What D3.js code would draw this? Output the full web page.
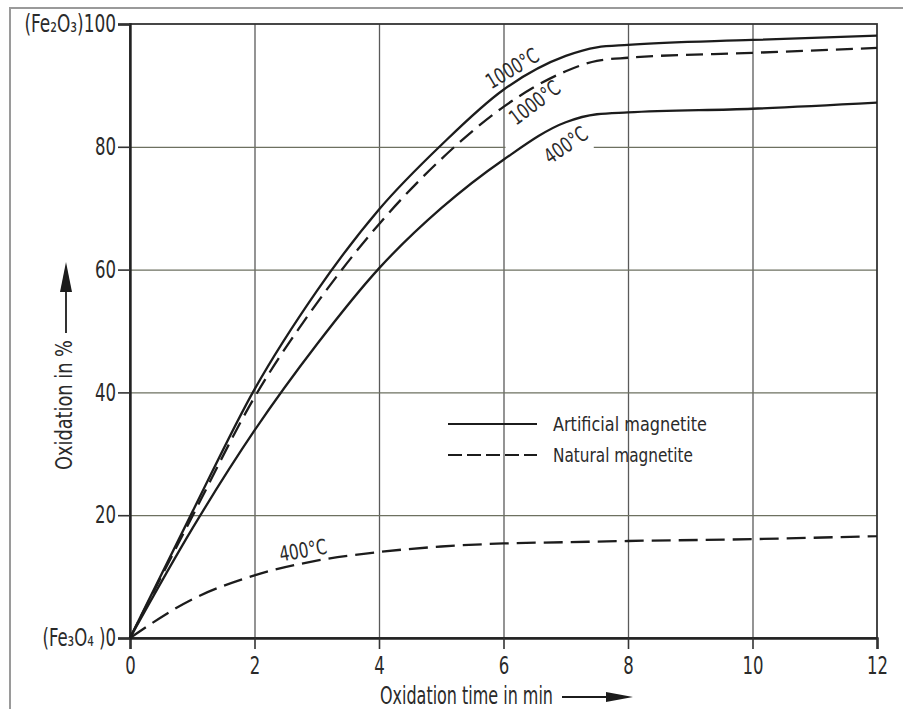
<!DOCTYPE html>
<html>
<head>
<meta charset="utf-8">
<script src="https://cdn.jsdelivr.net/npm/d3@7"></script>
<style>
  html, body { margin: 0; padding: 0; background: #fff; }
  svg { display: block; }
  text { font-family: "DejaVu Sans Condensed", "DejaVu Sans", sans-serif; fill: #2a2a2a; }
</style>
</head>
<body>
<script>
// ---- data ----
const time = [0, 1, 2, 3, 4, 5, 6, 7, 7.5, 8, 10, 12];
const artificial1000 = [0, 20.5, 40.5, 56.5, 69.8, 80.3, 89.3, 94.8, 96.2, 96.6, 97.4, 98.1];
const natural1000    = [0, 19.8, 39.2, 54.5, 67.4, 78.0, 86.5, 92.3, 94.0, 94.5, 95.3, 96.1];
const artificial400  = [0, 17.8, 33.8, 47.8, 60.2, 70.0, 77.9, 84.0, 85.3, 85.6, 86.2, 87.2];
const natural400     = [0, 6.3, 10.2, 12.6, 14.0, 14.9, 15.4, 15.6, 15.7, 15.8, 16.1, 16.6];
const xTicks = [0, 2, 4, 6, 8, 10, 12];
const yTicks = [0, 20, 40, 60, 80, 100];
const yPrefix = { 100: "(Fe₂O₃)", 0: "(Fe₃O₄ )" };
const yPrefixWidth = { 100: 60, 0: 63 };
const legendLabels = ["Artificial magnetite", "Natural magnetite"];
const curveLabels = [
  { text: "1000°C", t: 6.14, v: 92.8, angle: -31 },
  { text: "1000°C", t: 6.5,  v: 87.2, angle: -37 },
  { text: "400°C",  t: 7.0,  v: 80.3, angle: -35 },
  { text: "400°C",  t: 2.78, v: 14.3, angle: -10 }
];

const W = 903, H = 709;
const pLeft = 130, pRight = 877, pTop = 24, pBottom = 638;
const digitW = 10.5;

const svg = d3.select("body").append("svg").attr("width", W).attr("height", H);

// outer frame (scan border)
svg.append("path").attr("d", `M10,${H} L10,8 L${W},8`).attr("fill", "none")
  .attr("stroke", "#9a9a9a").attr("stroke-width", 2);

const x = d3.scaleLinear().domain([0, 12]).range([pLeft, pRight]);
const y = d3.scaleLinear().domain([0, 100]).range([pBottom, pTop]);

// grid
svg.append("g").attr("transform", `translate(0,${pBottom})`)
  .call(d3.axisBottom(x).tickValues(xTicks.slice(1, -1)).tickSize(-(pBottom - pTop)).tickFormat(""))
  .call(g => g.select(".domain").remove())
  .call(g => g.selectAll("line").attr("stroke", "#5a5a5a").attr("stroke-width", 1.3));
svg.append("g").attr("transform", `translate(${pLeft},0)`)
  .call(d3.axisLeft(y).tickValues(yTicks.slice(1, -1)).tickSize(-(pRight - pLeft)).tickFormat(""))
  .call(g => g.select(".domain").remove())
  .call(g => g.selectAll("line").attr("stroke", "#6d7060").attr("stroke-width", 1.3));

// gap in the 80% grid line
svg.append("rect").attr("x", x(6) + 2).attr("y", y(80) - 2.5)
  .attr("width", x(7.45) - x(6) - 2).attr("height", 5).attr("fill", "#fff");

// plot frame
svg.append("rect").attr("x", pLeft).attr("y", pTop).attr("width", pRight - pLeft).attr("height", pBottom - pTop)
  .attr("fill", "none").attr("stroke", "#333").attr("stroke-width", 1.8);

// axes
const xAxis = svg.append("g").attr("transform", `translate(0,${pBottom})`)
  .call(d3.axisBottom(x).tickValues(xTicks).tickSize(11).tickPadding(8).tickFormat(d3.format("d")));
xAxis.select(".domain").attr("stroke", "#222").attr("stroke-width", 2.4);
xAxis.selectAll("line").attr("stroke", "#333").attr("stroke-width", 1.6);
xAxis.selectAll("text").attr("font-size", 24).attr("fill", "#2a2a2a")
  .attr("font-family", "DejaVu Sans Condensed, DejaVu Sans, sans-serif")
  .attr("textLength", d => String(d).length * digitW).attr("lengthAdjust", "spacingAndGlyphs");

const yAxis = svg.append("g").attr("transform", `translate(${pLeft},0)`)
  .call(d3.axisLeft(y).tickValues(yTicks).tickSize(12).tickPadding(2)
    .tickFormat(d => (yPrefix[d] || "") + d3.format("d")(d)));
yAxis.select(".domain").attr("stroke", "#222").attr("stroke-width", 2.4);
yAxis.selectAll("line").attr("stroke", "#333").attr("stroke-width", 1.6);
yAxis.selectAll("text").attr("font-size", 24).attr("fill", "#2a2a2a")
  .attr("font-family", "DejaVu Sans Condensed, DejaVu Sans, sans-serif")
  .attr("textLength", d => String(d).length * digitW + (yPrefixWidth[d] || 0))
  .attr("lengthAdjust", "spacingAndGlyphs");

// curves
const line = d3.line().x(d => x(d[0])).y(d => y(d[1])).curve(d3.curveMonotoneX);
const series = [
  { vals: artificial1000, dash: null },
  { vals: natural1000, dash: "17,8" },
  { vals: artificial400, dash: null },
  { vals: natural400, dash: "19,8" }
];
svg.append("g").selectAll("path").data(series).join("path")
  .attr("d", s => line(time.map((t, i) => [t, s.vals[i]])))
  .attr("fill", "none").attr("stroke", "#1c1c1c").attr("stroke-width", 2.3)
  .attr("stroke-dasharray", s => s.dash);

// curve labels
svg.append("g").selectAll("text").data(curveLabels).join("text")
  .attr("transform", d => `translate(${x(d.t)},${y(d.v)}) rotate(${d.angle})`)
  .attr("text-anchor", "middle").attr("dy", "0.35em")
  .attr("font-size", 21)
  .attr("textLength", d => d.text.length === 6 ? 58 : 48).attr("lengthAdjust", "spacingAndGlyphs")
  .text(d => d.text);

// legend
const legend = svg.append("g");
const legendW = [154, 140];
[0, 1].forEach(i => {
  const ly = 424 + i * 31;
  legend.append("line").attr("x1", 448).attr("x2", 537).attr("y1", ly).attr("y2", ly)
    .attr("stroke", "#1c1c1c").attr("stroke-width", 2)
    .attr("stroke-dasharray", i === 1 ? "14,5" : null);
  legend.append("text").attr("x", 553).attr("y", ly).attr("dy", "0.36em")
    .attr("font-size", 20).attr("textLength", legendW[i]).attr("lengthAdjust", "spacingAndGlyphs")
    .text(legendLabels[i]);
});

// x axis title with arrow
svg.append("text").attr("x", 380).attr("y", 704).attr("font-size", 24)
  .attr("textLength", 173).attr("lengthAdjust", "spacingAndGlyphs").text("Oxidation time in min");
svg.append("line").attr("x1", 562).attr("x2", 610).attr("y1", 697).attr("y2", 697)
  .attr("stroke", "#1c1c1c").attr("stroke-width", 1.8);
svg.append("path").attr("d", "M606,692 L633,697 L606,702 Z").attr("fill", "#1c1c1c");

// y axis title with arrow
svg.append("text").attr("transform", "translate(72,470) rotate(-90)").attr("font-size", 23)
  .attr("textLength", 130).attr("lengthAdjust", "spacingAndGlyphs").text("Oxidation in %");
svg.append("line").attr("x1", 66).attr("x2", 66).attr("y1", 333).attr("y2", 288)
  .attr("stroke", "#1c1c1c").attr("stroke-width", 1.8);
svg.append("path").attr("d", "M60,292 L66,262 L72,292 Z").attr("fill", "#1c1c1c");
</script>
</body>
</html>
